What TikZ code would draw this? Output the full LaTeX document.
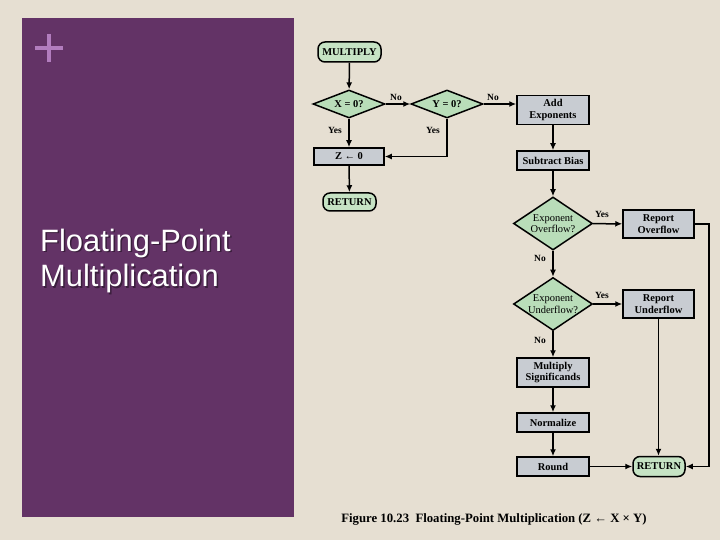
\documentclass[tikz,border=0pt]{standalone}
\usepackage{fontspec}
\setmainfont{Liberation Serif}
\newfontfamily\titlefont{Liberation Sans}
\usetikzlibrary{shapes.geometric,arrows.meta}
\definecolor{bg}{HTML}{E6DFD2}
\definecolor{panel}{HTML}{633366}
\definecolor{plusc}{HTML}{B27DBE}
\definecolor{termc}{HTML}{C6E3C4}
\definecolor{procc}{HTML}{C8CCD2}
\definecolor{decc}{HTML}{B9DDB9}
\definecolor{shadowc}{HTML}{3A1E3C}
\begin{document}
\begin{tikzpicture}[x=1bp,y=-1bp,
  every node/.style={inner sep=1bp},
  term/.style={draw, rounded corners=7bp, fill=termc, line width=1.5bp, align=center,
    font=\fontsize{10.5}{11.5}\selectfont\bfseries},
  proc/.style={draw, fill=procc, line width=1.5bp, align=center,
    font=\fontsize{10.5}{11.5}\selectfont\bfseries},
  dec/.style={diamond, draw, fill=decc, aspect=1.5, inner sep=0pt, line width=1.5bp, align=center,
    font=\fontsize{10.5}{11.5}\selectfont},
  decb/.style={dec, font=\fontsize{10.5}{11.5}\selectfont\bfseries},
  arr/.style={-{Latex[length=7bp,width=6bp]}, line width=1.5bp},
  lab/.style={font=\fontsize{9.5}{10}\selectfont\bfseries},
  ttl/.style={anchor=base west, align=left, font=\titlefont\fontsize{31}{36}\selectfont}
]
\useasboundingbox (0,0) rectangle (720,540);
\fill[bg] (0,0) rectangle (720,540);
\fill[panel] (22,18) rectangle (294,517);
\draw[plusc, line width=3.2bp] (49,34) -- (49,62) (35,48) -- (63,48);
\node[ttl, text=shadowc] (titleshadow) at (40.5,288.5) {Floating-Point\\Multiplication};
\node[ttl, text=white] (title) at (39,287) {Floating-Point\\Multiplication};

% flowchart nodes
\node[term, minimum width=63bp, minimum height=20bp] (mul) at (349.5,52) {MULTIPLY};
\node[decb, minimum width=72bp, minimum height=28bp] (x0) at (349,104) {X = 0?};
\node[decb, minimum width=72bp, minimum height=28bp] (y0) at (447,104) {Y = 0?};
\node[proc, minimum width=72bp, minimum height=29bp] (add) at (553,110) {Add\\Exponents};
\node[proc, minimum width=70bp, minimum height=17bp] (z0) at (349,156.5) {Z ← 0};
\node[term, minimum width=53bp, minimum height=18bp] (ret1) at (349.5,202) {RETURN};
\node[proc, minimum width=72bp, minimum height=19bp] (sub) at (553,160.5) {Subtract Bias};
\node[dec, minimum width=79bp, minimum height=53bp] (ovf) at (553,223.5) {Exponent\\Overflow?};
\node[proc, minimum width=71bp, minimum height=28bp] (rov) at (658.5,224) {Report\\Overflow};
\node[dec, minimum width=79bp, minimum height=53bp] (unf) at (553,304) {Exponent\\Underflow?};
\node[proc, minimum width=71bp, minimum height=28bp] (run) at (658.5,304) {Report\\Underflow};
\node[proc, minimum width=72bp, minimum height=29bp] (msig) at (553,372.5) {Multiply\\Significands};
\node[proc, minimum width=72bp, minimum height=19bp] (norm) at (553,422.5) {Normalize};
\node[proc, minimum width=72bp, minimum height=19bp] (rnd) at (553,466.5) {Round};
\node[term, minimum width=52bp, minimum height=20bp] (ret2) at (659,466.5) {RETURN};
\coordinate (ovfturn) at (709,224);

% connectors
\draw[arr] (mul) -- (x0);
\draw[arr] (x0.east) -- (y0.west);
\draw[arr] (y0.east) -- (y0.east -| add.west);
\draw[arr] (x0) -- (z0);
\draw[arr] (y0.south) |- (z0.east);
\draw[arr] (z0) -- (ret1);
\draw[arr] (add) -- (sub);
\draw[arr] (sub) -- (ovf);
\draw[arr] (ovf) -- (rov);
\draw[arr] (ovf) -- (unf);
\draw[arr] (unf) -- (run);
\draw[arr] (unf) -- (msig);
\draw[arr] (msig) -- (norm);
\draw[arr] (norm) -- (rnd);
\draw[arr] (rnd) -- (ret2);
\draw[arr] (run.south) -- (run.south |- ret2.north);
\draw[arr] (rov.east) -- (ovfturn) |- (ret2.east);

% labels
\node[lab] (no1) at (396,97) {No};
\node[lab] (no2) at (493,97) {No};
\node[lab] (yes1) at (335,130) {Yes};
\node[lab] (yes2) at (433,130) {Yes};
\node[lab] (yes3) at (602,214) {Yes};
\node[lab] (yes4) at (602,295) {Yes};
\node[lab] (no3) at (540,258) {No};
\node[lab] (no4) at (540,340) {No};

\node[font=\fontsize{12.8}{14}\selectfont\bfseries] (cap) at (494,519) {Figure 10.23\enspace Floating-Point Multiplication (Z ← X × Y)};
\end{tikzpicture}
\end{document}
